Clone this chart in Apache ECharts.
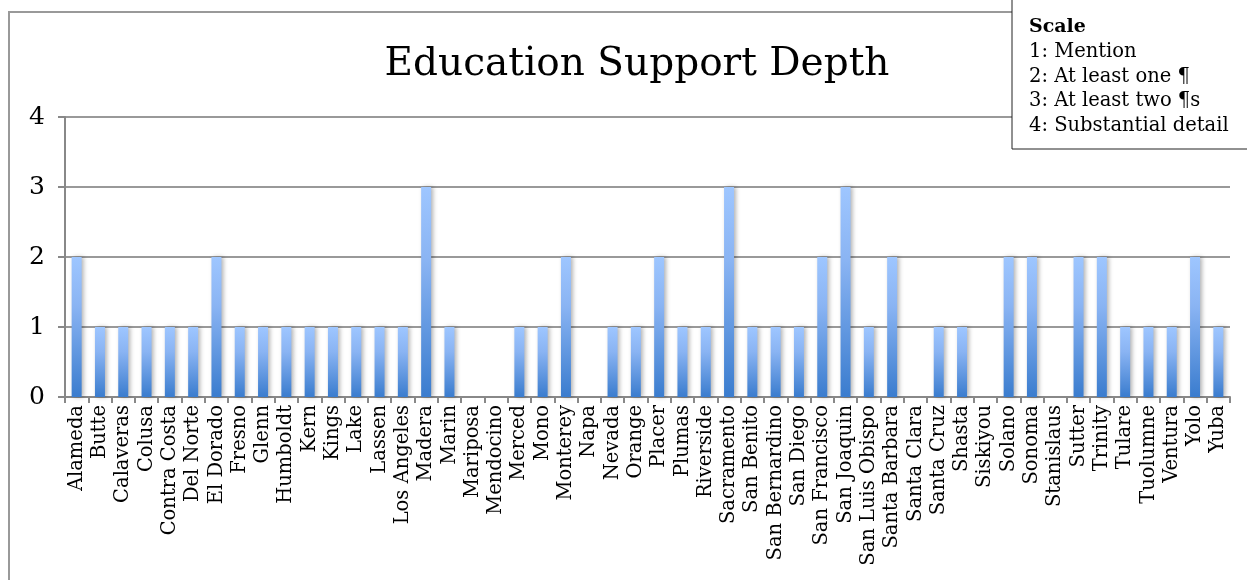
<!DOCTYPE html>
<html>
<head>
<meta charset="utf-8">
<script src="https://cdn.jsdelivr.net/npm/echarts@6/dist/echarts.min.js"></script>
<style>html,body{margin:0;padding:0;background:#fff;}#c{width:1247px;height:580px;}</style>
</head>
<body>
<div id="c"></div>
<script>
const categories = ["Alameda","Butte","Calaveras","Colusa","Contra Costa","Del Norte","El Dorado","Fresno","Glenn","Humboldt","Kern","Kings","Lake","Lassen","Los Angeles","Madera","Marin","Mariposa","Mendocino","Merced","Mono","Monterey","Napa","Nevada","Orange","Placer","Plumas","Riverside","Sacramento","San Benito","San Bernardino","San Diego","San Francisco","San Joaquin","San Luis Obispo","Santa Barbara","Santa Clara","Santa Cruz","Shasta","Siskiyou","Solano","Sonoma","Stanislaus","Sutter","Trinity","Tulare","Tuolumne","Ventura","Yolo","Yuba"];
const depth = [2,1,1,1,1,1,2,1,1,1,1,1,1,1,1,3,1,0,0,1,1,2,0,1,1,2,1,1,3,1,1,1,2,3,1,2,0,1,1,0,2,2,0,2,2,1,1,1,2,1];
const titleText = "Education Support Depth";
const scaleTitle = "Scale";
const scaleLines = ["1: Mention","2: At least one \u00b6","3: At least two \u00b6s","4: Substantial detail"];

const serif = '"DejaVu Serif", serif';
const chart = echarts.init(document.getElementById('c'), null, {renderer:'canvas'});
chart.setOption({
  animation: false,
  backgroundColor: '#fff',
  title: {
    text: titleText, left: 632, top: 40, textAlign: 'center',
    textStyle: {fontFamily: serif, fontSize: 39, fontWeight: 'normal', color: '#000'}
  },
  grid: {left: 65, right: 17, top: 117, bottom: 183, containLabel: false},
  xAxis: {
    type: 'category', data: categories,
    axisLine: {show: true, lineStyle: {color: '#888', width: 2}},
    axisTick: {show: true, interval: 0, length: 6, lineStyle: {color: '#888', width: 2}},
    axisLabel: {interval: 0, rotate: 90, fontFamily: serif, fontSize: 19.5, color: '#000', margin: 8}
  },
  yAxis: {
    type: 'value', min: 0, max: 4, interval: 1,
    axisLine: {show: true, lineStyle: {color: '#888', width: 2}},
    axisTick: {show: true, length: 7, lineStyle: {color: '#888', width: 2}},
    splitLine: {show: true, lineStyle: {color: '#999', width: 2}},
    axisLabel: {fontFamily: serif, fontSize: 25, color: '#000', margin: 20}
  },
  series: [{
    type: 'bar', data: depth, barWidth: 10,
    itemStyle: {
      color: new echarts.graphic.LinearGradient(0,0,0,1,[{offset:0,color:'#9ec6ff'},{offset:0.35,color:'#8ab4f3'},{offset:1,color:'#3a7cce'}]),
      shadowColor: 'rgba(0,0,0,0.3)', shadowBlur: 4, shadowOffsetX: 2
    }
  }],
  graphic: [
    {type:'rect', z: -1, shape:{x:9, y:12, width:1300, height:700}, style:{fill:'none', stroke:'#999', lineWidth:2}},
    {type:'rect', z: 100, shape:{x:1012, y:-2, width:240, height:151}, style:{fill:'#fff', stroke:'#222', lineWidth:1}},
    {type:'text', z: 101, left: 1029, top: 18, style:{text: scaleTitle, font: 'bold 19px ' + serif, fill:'#000'}},
    {type:'text', z: 101, left: 1029, top: 40, style:{text: scaleLines.join('\n'), font: '19.5px ' + serif, lineHeight: 24.5, fill:'#000'}}
  ]
});
</script>
</body>
</html>
